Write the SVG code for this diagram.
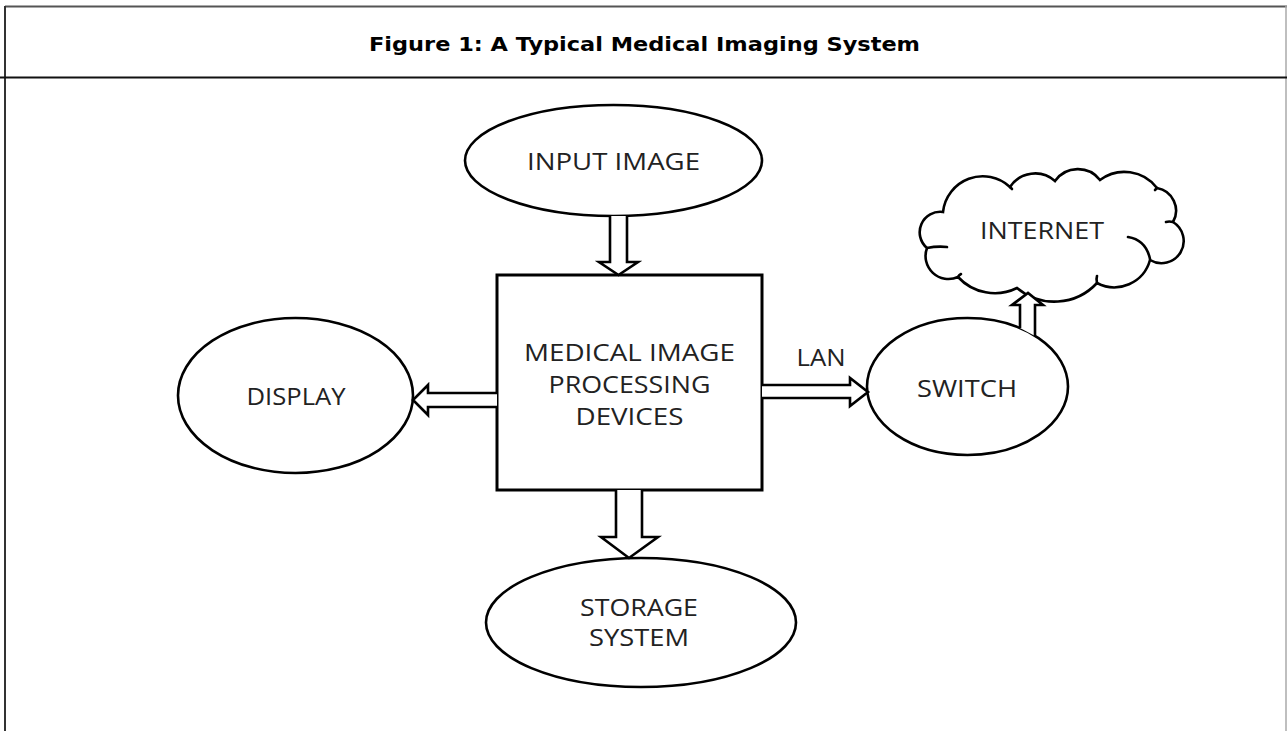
<svg xmlns="http://www.w3.org/2000/svg" width="1287" height="731" viewBox="0 0 1287 731">
  <style>
    .node { fill: #fff; stroke: #000; stroke-width: 2.6; }
    .box { fill: #fff; stroke: #000; stroke-width: 3; }
    .arrow { fill: #fff; stroke: #000; stroke-width: 2.6; stroke-linejoin: miter; }
    .hook { fill: none; stroke: #000; stroke-width: 2.6; stroke-linecap: round; }
    .lbl { font-family: "Open Sans", "Liberation Sans", sans-serif; font-size: 23.5px; fill: #222; text-anchor: middle; }
    .title { font-family: "DejaVu Sans", Verdana, sans-serif; font-weight: bold; font-size: 20px; fill: #000; text-anchor: middle; }
  </style>
  <rect x="0" y="0" width="1287" height="731" fill="#fff"/>
  <g id="frame">
    <line x1="5" y1="6.5" x2="1287" y2="6.5" stroke="#555" stroke-width="2"/>
    <line x1="5" y1="6" x2="5" y2="731" stroke="#333" stroke-width="2"/>
    <line x1="1286" y1="6" x2="1286" y2="731" stroke="#aaa" stroke-width="1.5"/>
    <line x1="0" y1="77.5" x2="1287" y2="77.5" stroke="#111" stroke-width="2"/>
    <text class="title" x="644.5" y="51" textLength="551" lengthAdjust="spacingAndGlyphs">Figure 1: A Typical Medical Imaging System</text>
  </g>
  <g id="input-image">
    <ellipse class="node" cx="613.5" cy="160.5" rx="148.5" ry="55.5"/>
    <text class="lbl" x="613.5" y="170" textLength="173" lengthAdjust="spacingAndGlyphs">INPUT IMAGE</text>
  </g>
  <g id="processing">
    <rect class="box" x="497" y="275" width="265" height="215"/>
    <text class="lbl" x="629.5" y="361" textLength="211" lengthAdjust="spacingAndGlyphs">MEDICAL IMAGE</text>
    <text class="lbl" x="629.5" y="393" textLength="162" lengthAdjust="spacingAndGlyphs">PROCESSING</text>
    <text class="lbl" x="629.5" y="425" textLength="108" lengthAdjust="spacingAndGlyphs">DEVICES</text>
  </g>
  <g id="display">
    <ellipse class="node" cx="295.5" cy="395.5" rx="117.5" ry="77.5"/>
    <text class="lbl" x="296" y="405" textLength="99" lengthAdjust="spacingAndGlyphs">DISPLAY</text>
  </g>
  <g id="switch">
    <ellipse class="node" cx="967.5" cy="386.5" rx="100.5" ry="68.5"/>
    <text class="lbl" x="967" y="397" textLength="100" lengthAdjust="spacingAndGlyphs">SWITCH</text>
  </g>
  <g id="storage">
    <ellipse class="node" cx="641" cy="622.5" rx="155" ry="64.5"/>
    <text class="lbl" x="639" y="616" textLength="118" lengthAdjust="spacingAndGlyphs">STORAGE</text>
    <text class="lbl" x="639" y="646" textLength="100" lengthAdjust="spacingAndGlyphs">SYSTEM</text>
  </g>
  <g id="internet">
    <path class="node" d="M943,212 A40,40 0 0 1 1010,187 A30,30 0 0 1 1055,181 A28,28 0 0 1 1100,180 A41,41 0 0 1 1157,188 A23,23 0 0 1 1173,222 A22,22 0 0 1 1150,260 A37,37 0 0 1 1097,283 A58,58 0 0 1 1017,288 A50,50 0 0 1 958,277 A23,23 0 0 1 927,248 A20.5,20.5 0 0 1 943,212 Z"/>
    <path class="hook" d="M1128,237 Q1146,240 1150,259"/>
    <path class="hook" d="M927,248 Q937,246 947,247"/>
    <path class="hook" d="M1097,283 Q1096,279 1097,276"/>
    <path class="hook" d="M1173,222 Q1169,221 1166,222"/>
    <path class="hook" d="M958,277 Q959,275 961,274"/>
    <path class="hook" d="M1010,187 Q1011,188 1012,189"/>
    <path class="hook" d="M1157,188 Q1156,189 1155,190"/>
    <text class="lbl" x="1042" y="239" textLength="124" lengthAdjust="spacingAndGlyphs">INTERNET</text>
  </g>
  <g id="connectors">
    <path class="arrow" d="M610,216 V262 H599 L618.5,275 L638,262 H627 V216"/>
    <path class="arrow" d="M497,393 H428 V385 L413,400 L428,415 V407 H497"/>
    <path class="arrow" d="M762,385 H850 V378 L868,392 L850,406 V398 H762"/>
    <path class="arrow" d="M1020,328 V305 H1012 L1028,293 L1043,305 H1035 V336"/>
    <path class="arrow" d="M616,490 V537 H601 L629,558 L658,537 H642 V490"/>
    <text class="lbl" x="821" y="366" textLength="49" lengthAdjust="spacingAndGlyphs">LAN</text>
  </g>
</svg>
